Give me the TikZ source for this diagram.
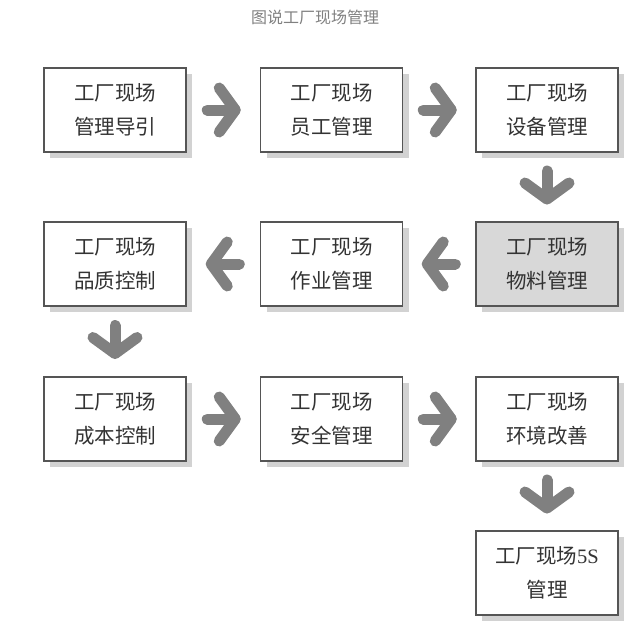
\documentclass[tikz,border=0pt]{standalone}
\usepackage{fontspec}
\setmainfont{Liberation Serif}
\newfontfamily\cjk{Noto Sans CJK SC}
\usetikzlibrary{shadows}
\definecolor{boxline}{HTML}{555555}
\definecolor{boxtext}{HTML}{333333}
\definecolor{arrowgray}{HTML}{808080}
\definecolor{shadowgray}{HTML}{D2D2D2}
\definecolor{graybox}{HTML}{D8D8D8}
\definecolor{titlegray}{HTML}{808080}
\tikzset{
  stepbox/.style={draw=boxline, line width=1.3pt, fill=white,
    minimum width=142pt, minimum height=84pt, inner sep=0pt,
    align=center, text=boxtext, font=\cjk\fontsize{20.5}{34}\selectfont,
    general shadow={fill=shadowgray, shadow xshift=6pt, shadow yshift=-6pt}},
  shadedbox/.style={stepbox, fill=graybox},
  chev/.style={draw=arrowgray, line width=11pt, line cap=round, line join=round},
}
\newcommand{\chevron}[2]{% coordinate, rotation
  \draw[chev, rotate around={#2:(#1)}] ([xshift=-16pt]#1) -- ([xshift=11pt]#1);
  \draw[chev, rotate around={#2:(#1)}] ([xshift=-4pt,yshift=22pt]#1) -- ([xshift=12pt]#1) -- ([xshift=-4pt,yshift=-22pt]#1);
}
\begin{document}
\begin{tikzpicture}[x=1pt,y=-1pt]
\useasboundingbox (0,0) rectangle (636,625);
\node[text=titlegray, font=\cjk\fontsize{16}{18}\selectfont] (title) at (315,17) {图说工厂现场管理};
\node[stepbox] (a) at (115,110) {工厂现场\\管理导引};
\node[stepbox] (b) at (331.5,110) {工厂现场\\员工管理};
\node[stepbox] (c) at (547,110) {工厂现场\\设备管理};
\node[shadedbox] (d) at (547,264) {工厂现场\\物料管理};
\node[stepbox] (e) at (331.5,264) {工厂现场\\作业管理};
\node[stepbox] (f) at (115,264) {工厂现场\\品质控制};
\node[stepbox] (g) at (115,419) {工厂现场\\成本控制};
\node[stepbox] (h) at (331.5,419) {工厂现场\\安全管理};
\node[stepbox] (i) at (547,419) {工厂现场\\环境改善};
\node[stepbox] (j) at (547,573) {工厂现场{\rmfamily 5S}\\管理};
\path (a.east) -- (b.west) coordinate[midway] (m1);
\path (b.east) -- (c.west) coordinate[midway] (m2);
\path (c.south) -- (d.north) coordinate[midway] (m3);
\path (d.west) -- (e.east) coordinate[midway] (m4);
\path (e.west) -- (f.east) coordinate[midway] (m5);
\path (f.south) -- (g.north) coordinate[midway] (m6);
\path (g.east) -- (h.west) coordinate[midway] (m7);
\path (h.east) -- (i.west) coordinate[midway] (m8);
\path (i.south) -- (j.north) coordinate[midway] (m9);
\chevron{m1}{0}
\chevron{m2}{0}
\chevron{m3}{-90}
\chevron{m4}{180}
\chevron{m5}{180}
\chevron{m6}{-90}
\chevron{m7}{0}
\chevron{m8}{0}
\chevron{m9}{-90}
\end{tikzpicture}
\end{document}
